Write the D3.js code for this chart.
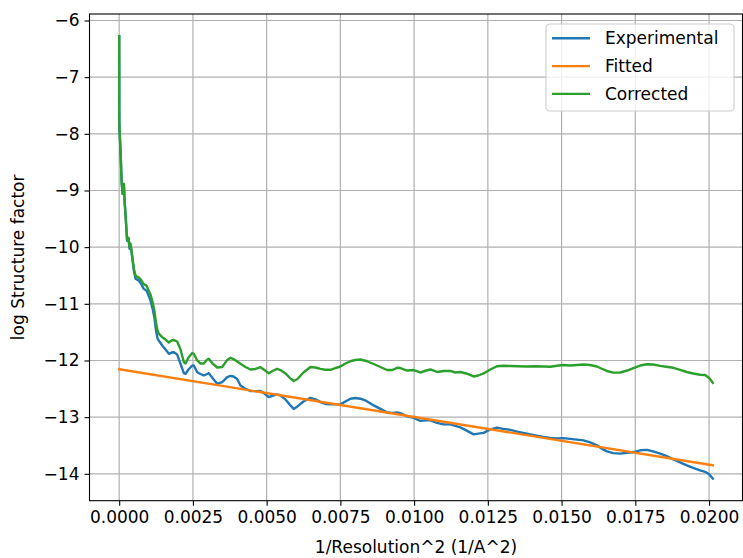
<!DOCTYPE html>
<html>
<head>
<meta charset="utf-8">
<script src="https://cdn.jsdelivr.net/npm/d3@7"></script>
<style>
  html, body { margin: 0; padding: 0; background: #fff; }
  svg { display: block; font-family: "DejaVu Sans", sans-serif; }
</style>
</head>
<body>
<svg id="chart" width="743" height="558"></svg>
<script>
// ---- data ----
const xValues = [0.000000,0.000002,0.000003,0.000007,0.000030,0.000058,0.000081,0.000115,0.000159,0.000183,
0.000227,0.000268,0.000318,0.000352,0.000386,0.000420,0.000498,0.000556,0.000667,0.000759,
0.000827,0.000928,0.000996,0.001064,0.001132,0.001199,0.001250,0.001301,0.001345,0.001460,
0.001572,0.001684,0.001775,0.001853,0.001968,0.002080,0.002192,0.002250,0.002351,0.002477,
0.002531,0.002646,0.002758,0.002870,0.002985,0.003039,0.003164,0.003324,0.003493,0.003662,
0.003774,0.003876,0.004001,0.004113,0.004282,0.004452,0.004621,0.004791,0.004926,0.005072,
0.005197,0.005356,0.005468,0.005638,0.005807,0.005919,0.006044,0.006248,0.006485,0.006654,
0.006823,0.006993,0.007162,0.007332,0.007501,0.007670,0.007840,0.008009,0.008179,0.008382,
0.008629,0.008856,0.009083,0.009263,0.009422,0.009534,0.009761,0.009984,0.010211,0.010415,
0.010550,0.010777,0.011001,0.011228,0.011397,0.011567,0.011770,0.012017,0.012176,0.012356,
0.012583,0.012810,0.013024,0.013261,0.013532,0.013826,0.014108,0.014389,0.014616,0.014843,
0.015056,0.015293,0.015520,0.015744,0.015971,0.016198,0.016344,0.016537,0.016750,0.016987,
0.017225,0.017438,0.017665,0.017892,0.018105,0.018343,0.018546,0.018793,0.019020,0.019247,
0.019461,0.019698,0.019867,0.020003,0.020128];

const experimental = [-6.276,-6.893,-7.738,-7.862,-8.126,-8.478,-8.830,-9.059,-8.883,-9.182,
-9.535,-9.887,-9.852,-10.028,-9.975,-10.098,-10.415,-10.556,-10.591,-10.662,
-10.732,-10.768,-10.856,-10.944,-11.085,-11.261,-11.472,-11.613,-11.648,-11.736,
-11.807,-11.882,-11.860,-11.854,-11.895,-12.059,-12.224,-12.235,-12.159,-12.088,
-12.088,-12.207,-12.238,-12.265,-12.238,-12.224,-12.309,-12.411,-12.383,-12.295,
-12.273,-12.282,-12.326,-12.441,-12.502,-12.538,-12.541,-12.538,-12.582,-12.647,
-12.626,-12.599,-12.617,-12.687,-12.793,-12.855,-12.811,-12.723,-12.661,-12.687,
-12.735,-12.767,-12.775,-12.775,-12.775,-12.723,-12.675,-12.661,-12.675,-12.714,
-12.793,-12.855,-12.916,-12.925,-12.916,-12.929,-12.987,-13.013,-13.066,-13.057,
-13.057,-13.101,-13.128,-13.128,-13.154,-13.180,-13.233,-13.304,-13.291,-13.277,
-13.216,-13.186,-13.207,-13.224,-13.260,-13.291,-13.321,-13.351,-13.365,-13.374,
-13.371,-13.383,-13.397,-13.409,-13.445,-13.497,-13.550,-13.603,-13.635,-13.644,
-13.629,-13.616,-13.585,-13.577,-13.603,-13.644,-13.682,-13.744,-13.797,-13.850,
-13.894,-13.938,-13.964,-14.008,-14.084];

const corrected = [-6.276,-6.893,-7.738,-7.862,-8.126,-8.478,-8.830,-9.059,-8.883,-9.182,
-9.517,-9.869,-9.834,-9.993,-9.940,-10.063,-10.380,-10.503,-10.538,-10.591,
-10.653,-10.680,-10.759,-10.838,-10.970,-11.137,-11.340,-11.472,-11.525,-11.590,
-11.631,-11.683,-11.648,-11.639,-11.666,-11.807,-12.027,-12.053,-11.948,-11.868,
-11.882,-12.000,-12.053,-12.053,-11.983,-11.970,-12.053,-12.124,-12.115,-11.992,
-11.953,-11.974,-12.018,-12.059,-12.115,-12.159,-12.150,-12.118,-12.168,-12.224,
-12.185,-12.147,-12.168,-12.229,-12.318,-12.362,-12.326,-12.212,-12.115,-12.124,
-12.147,-12.164,-12.164,-12.133,-12.106,-12.053,-12.013,-11.992,-11.983,-12.009,
-12.062,-12.115,-12.168,-12.168,-12.129,-12.133,-12.177,-12.168,-12.212,-12.177,
-12.159,-12.203,-12.185,-12.185,-12.212,-12.203,-12.229,-12.282,-12.265,-12.229,
-12.159,-12.101,-12.094,-12.097,-12.101,-12.106,-12.101,-12.106,-12.111,-12.094,
-12.080,-12.089,-12.080,-12.071,-12.080,-12.106,-12.141,-12.185,-12.215,-12.212,
-12.177,-12.133,-12.089,-12.067,-12.071,-12.094,-12.111,-12.129,-12.164,-12.203,
-12.229,-12.252,-12.256,-12.309,-12.393];

const fittedX = [0.000000, 0.020128];
const fitted = [-12.154, -13.850];

const xTicks = [0, 0.0025, 0.005, 0.0075, 0.01, 0.0125, 0.015, 0.0175, 0.02];
const yTicks = [-14, -13, -12, -11, -10, -9, -8, -7, -6];
const seriesNames = ["Experimental", "Fitted", "Corrected"];
const seriesColors = ["#1f77b4", "#ff7f0e", "#2ca02c"];

// ---- layout ----
const W = 743, H = 558;
const margin = { left: 89.5, right: 0.5, top: 14, bottom: 57.3 };
const iw = W - margin.left - margin.right;
const ih = H - margin.top - margin.bottom;
const FS = 17;

const svg = d3.select("#chart");
const g = svg.append("g").attr("transform", `translate(${margin.left},${margin.top})`);

// matplotlib-like 5% margins
const xAll = xValues.concat(fittedX);
const yAll = experimental.concat(corrected, fitted);
const [x0, x1] = d3.extent(xAll);
const [y0, y1] = d3.extent(yAll);
const xpad = (x1 - x0) * 0.05, ypad = (y1 - y0) * 0.05;

const x = d3.scaleLinear().domain([x0 - xpad, x1 + xpad]).range([0, iw]);
const y = d3.scaleLinear().domain([y0 - ypad, y1 + ypad]).range([ih, 0]);

// grid
g.append("g").selectAll("line").data(xTicks).join("line")
  .attr("x1", d => x(d)).attr("x2", d => x(d)).attr("y1", 0).attr("y2", ih)
  .attr("stroke", "#b0b0b0").attr("stroke-width", 1.2);
g.append("g").selectAll("line").data(yTicks).join("line")
  .attr("y1", d => y(d)).attr("y2", d => y(d)).attr("x1", 0).attr("x2", iw)
  .attr("stroke", "#b0b0b0").attr("stroke-width", 1.2);

// clip
svg.append("defs").append("clipPath").attr("id", "clip")
  .append("rect").attr("width", iw).attr("height", ih);

const plot = g.append("g").attr("clip-path", "url(#clip)");
const line = d3.line().x(d => x(d[0])).y(d => y(d[1]));

const expPts = xValues.map((v, i) => [v, experimental[i]]);
const corPts = xValues.map((v, i) => [v, corrected[i]]);
const fitPts = fittedX.map((v, i) => [v, fitted[i]]);

[[expPts, 0], [fitPts, 1], [corPts, 2]].forEach(([pts, k]) => {
  plot.append("path").datum(pts).attr("d", line)
    .attr("fill", "none").attr("stroke", seriesColors[k])
    .attr("stroke-width", 2.4).attr("stroke-linejoin", "round").attr("stroke-linecap", "square");
});

// axes
const xAxis = d3.axisBottom(x).tickValues(xTicks).tickFormat(d3.format(".4f")).tickSizeOuter(0).tickSize(5).tickPadding(5);
const yAxis = d3.axisLeft(y).tickValues(yTicks).tickFormat(d3.format("d")).tickSizeOuter(0).tickSize(5).tickPadding(5);

const gx = g.append("g").attr("transform", `translate(0,${ih})`).call(xAxis);
const gy = g.append("g").call(yAxis);
[gx, gy].forEach(a => {
  a.select(".domain").remove();
  a.selectAll(".tick line").attr("stroke", "#000").attr("stroke-width", 1.1);
  a.selectAll(".tick text").attr("fill", "#000").style("font-size", FS + "px").style("font-family", "DejaVu Sans");
});

// spines
g.append("rect").attr("x", 0).attr("y", 0).attr("width", iw).attr("height", ih)
  .attr("fill", "none").attr("stroke", "#000").attr("stroke-width", 1.1);

// axis labels
svg.append("text").attr("x", margin.left + iw / 2).attr("y", H - 5)
  .attr("text-anchor", "middle").style("font-size", FS + "px").text("1/Resolution^2 (1/A^2)");
svg.append("text")
  .attr("transform", `translate(${24},${margin.top + ih / 2}) rotate(-90)`)
  .attr("text-anchor", "middle").style("font-size", FS + "px").text("log Structure factor");

// legend
const lg = svg.append("g").attr("transform", "translate(546,24)");
lg.append("rect").attr("width", 188).attr("height", 87).attr("rx", 4)
  .attr("fill", "#fff").attr("fill-opacity", 0.8).attr("stroke", "#cccccc").attr("stroke-width", 1.1);
seriesNames.forEach((name, i) => {
  const cy = 14.3 + i * 27.8;
  lg.append("line").attr("x1", 6).attr("x2", 44).attr("y1", cy).attr("y2", cy)
    .attr("stroke", seriesColors[i]).attr("stroke-width", 2.4);
  lg.append("text").attr("x", 59).attr("y", cy).attr("dy", "0.35em")
    .style("font-size", FS + "px").text(name);
});
</script>
</body>
</html>
